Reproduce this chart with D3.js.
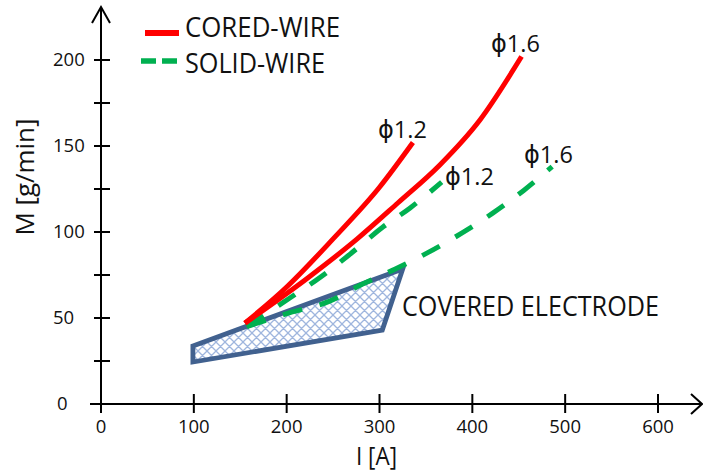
<!DOCTYPE html>
<html>
<head>
<meta charset="utf-8">
<script src="https://cdn.jsdelivr.net/npm/d3@7"></script>
<style>
  body { margin: 0; background: #fff; }
  text { font-family: "Open Sans", "Liberation Sans", sans-serif; fill: #111; }
</style>
</head>
<body>
<div id="chart"></div>
<script>
// deposition rate M [g/min] against current I [A]
const coredThinI = [155, 200, 250, 300, 336];
const coredThinM = [47, 68, 96, 126, 152];
const coredThickI = [155, 222, 276, 320, 365, 408, 453];
const coredThickM = [47, 73, 96, 117, 139, 165, 202];
const solidThinI = [157, 203, 237, 268, 304, 333, 367];
const solidThinM = [45, 61.5, 74, 87, 103, 114, 129];
const solidThickI = [157, 206, 245, 279, 317, 352, 389, 422, 455, 486];
const solidThickM = [45, 53.5, 59.5, 69, 78.5, 88, 99.5, 111, 124, 138];
const electrodeI = [99, 325, 303, 99];
const electrodeM = [33.7, 78.5, 43, 24.4];

const xTicks = [0, 100, 200, 300, 400, 500, 600];
const yTickLabels = [0, 50, 100, 150, 200];
const yTickMarks = [25, 50, 75, 100, 125, 150, 175, 200];

function drawChart() {
    const width = 703, height = 475;

    const svg = d3.select("#chart")
        .append("svg")
        .attr("width", width)
        .attr("height", height);

    const x = d3.scaleLinear().domain([0, 600]).range([101, 658]);
    const y = d3.scaleLinear().domain([0, 200]).range([404, 60]);

    const pts = (xs, ys) => xs.map((v, i) => [v, ys[i]]);

    // cross hatch for the electrode area
    const pat = svg.append("defs").append("pattern")
        .attr("id", "hatch")
        .attr("patternUnits", "userSpaceOnUse")
        .attr("width", 9)
        .attr("height", 9);
    pat.append("rect").attr("width", 9).attr("height", 9).attr("fill", "#fff");
    pat.append("path")
        .attr("d", "M0,0L9,9M9,0L0,9M-1,8L1,10M8,-1L10,1M-1,1L1,-1M8,10L10,8")
        .attr("stroke", "#9fb6de")
        .attr("stroke-width", 1.3);

    // axes
    const axis = svg.append("g").attr("stroke", "#000").attr("stroke-width", 2).attr("fill", "none");
    axis.append("line").attr("x1", 90).attr("x2", 701).attr("y1", y(0)).attr("y2", y(0));
    axis.append("line").attr("x1", x(0)).attr("x2", x(0)).attr("y1", 413).attr("y2", 7);
    axis.append("path").attr("d", `M${x(0) - 9},23L${x(0)},7L${x(0) + 9},23`);
    axis.append("path").attr("d", `M691,${y(0) - 10}L702,${y(0)}L691,${y(0) + 10}`);

    axis.selectAll(".xt")
        .data(xTicks.slice(1))
        .enter().append("line")
        .attr("x1", d => x(d)).attr("x2", d => x(d))
        .attr("y1", y(0) - 10).attr("y2", y(0) + 9);

    axis.selectAll(".yt")
        .data(yTickMarks)
        .enter().append("line")
        .attr("x1", x(0) - 7).attr("x2", x(0) + 9)
        .attr("y1", d => y(d)).attr("y2", d => y(d));

    svg.append("g").selectAll("text")
        .data(xTicks)
        .enter().append("text")
        .attr("x", d => x(d))
        .attr("y", 433)
        .attr("text-anchor", "middle")
        .style("font-size", "18.5px")
        .text(d => d);

    svg.append("g").selectAll("text")
        .data(yTickLabels)
        .enter().append("text")
        .attr("x", d => d === 0 ? 57 : 53)
        .attr("y", d => y(d) + 6)
        .style("font-size", "18.5px")
        .text(d => d);

    svg.append("text")
        .attr("x", 356).attr("y", 465)
        .attr("textLength", 41).attr("lengthAdjust", "spacingAndGlyphs")
        .style("font-size", "26px")
        .text("I [A]");

    svg.append("text")
        .attr("transform", "translate(34,177) rotate(-90)")
        .attr("text-anchor", "middle")
        .attr("textLength", 117).attr("lengthAdjust", "spacingAndGlyphs")
        .style("font-size", "26px")
        .text("M [g/min]");

    // covered electrode region
    svg.append("path")
        .attr("d", d3.line().x(d => x(d[0])).y(d => y(d[1]))(pts(electrodeI, electrodeM)) + "Z")
        .attr("fill", "url(#hatch)")
        .attr("stroke", "#41618f")
        .attr("stroke-width", 4.8)
        .attr("stroke-linejoin", "miter");

    const line = d3.line()
        .x(d => x(d[0]))
        .y(d => y(d[1]))
        .curve(d3.curveMonotoneX);

    [[solidThickI, solidThickM], [solidThinI, solidThinM]].forEach(s => {
        svg.append("path")
            .attr("d", line(pts(s[0], s[1])))
            .attr("fill", "none")
            .attr("stroke", "#00b050")
            .attr("stroke-width", 5)
            .attr("stroke-dasharray", "20 18");
    });

    [[coredThickI, coredThickM], [coredThinI, coredThinM]].forEach(s => {
        svg.append("path")
            .attr("d", line(pts(s[0], s[1])))
            .attr("fill", "none")
            .attr("stroke", "#ff0000")
            .attr("stroke-width", 5);
    });

    // diameter labels
    const phi = [
        {t: "1.6", x: 491, y: 52},
        {t: "1.2", x: 378, y: 138},
        {t: "1.2", x: 445, y: 185},
        {t: "1.6", x: 524, y: 163}
    ];
    const lab = svg.append("g").selectAll("text")
        .data(phi)
        .enter().append("text")
        .attr("x", d => d.x).attr("y", d => d.y)
        .style("font-size", "23.5px");
    lab.append("tspan")
        .style("font-family", "'DejaVu Sans', sans-serif")
        .style("font-size", "24px")
        .text("\u03D5");
    lab.append("tspan")
        .text(d => d.t);

    svg.append("text")
        .attr("x", 402).attr("y", 316)
        .attr("textLength", 257).attr("lengthAdjust", "spacingAndGlyphs")
        .style("font-size", "28px")
        .text("COVERED ELECTRODE");

    // legend
    svg.append("line")
        .attr("x1", 145).attr("x2", 179).attr("y1", 33).attr("y2", 33)
        .attr("stroke", "#ff0000").attr("stroke-width", 6);
    svg.append("line")
        .attr("x1", 141).attr("x2", 177).attr("y1", 61).attr("y2", 61)
        .attr("stroke", "#00b050").attr("stroke-width", 5.5)
        .attr("stroke-dasharray", "15 6");
    svg.append("text")
        .attr("x", 185).attr("y", 37)
        .attr("textLength", 155).attr("lengthAdjust", "spacingAndGlyphs")
        .style("font-size", "27px")
        .text("CORED-WIRE");
    svg.append("text")
        .attr("x", 185).attr("y", 73)
        .attr("textLength", 140).attr("lengthAdjust", "spacingAndGlyphs")
        .style("font-size", "27px")
        .text("SOLID-WIRE");
}

drawChart();
</script>
</body>
</html>
